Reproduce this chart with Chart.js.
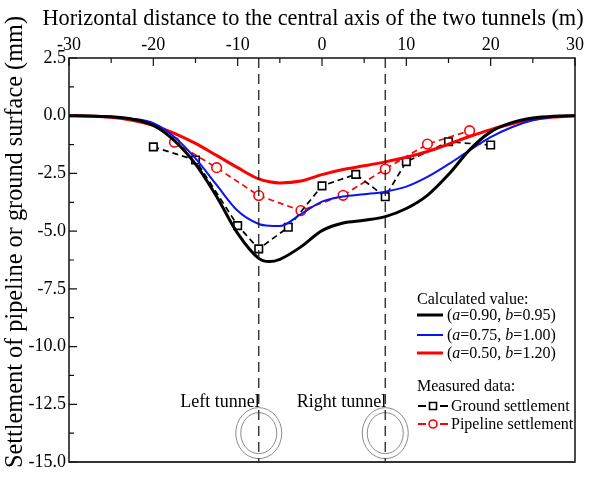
<!DOCTYPE html>
<html lang="en">
<head>
<meta charset="UTF-8" />
<title>Settlement</title>
<script src="https://cdn.jsdelivr.net/npm/chart.js"></script>
<style>
  html, body { margin: 0; padding: 0; background: #fff; }
</style>
</head>
<body>
<canvas id="myChart" width="603" height="479"></canvas>
<script>
// horizontal distance (m) for the calculated curves
const calcX = [-30, -27.5, -25, -22.5, -20, -17.5, -15, -12.5, -10, -7.5, -6.25, -5, -2.5, 0, 2.5, 5, 7.5, 10, 12.5, 15, 17.5, 20, 22.5, 25, 27.5, 30];
// calculated settlement (mm)
const calcBlack = [0, -0.01, -0.05, -0.15, -0.42, -1.08, -2.1, -3.5, -5.1, -6.18, -6.32, -6.22, -5.68, -4.98, -4.65, -4.53, -4.37, -4.02, -3.45, -2.55, -1.48, -0.7, -0.3, -0.1, -0.02, 0];
const calcBlue = [0, -0.01, -0.04, -0.13, -0.32, -0.92, -1.85, -3.0, -4.12, -4.69, -4.77, -4.78, -4.26, -3.72, -3.5, -3.4, -3.29, -3.07, -2.65, -2.1, -1.5, -0.93, -0.5, -0.2, -0.05, 0];
const calcRed = [0, -0.02, -0.07, -0.2, -0.42, -0.76, -1.2, -1.72, -2.25, -2.74, -2.86, -2.91, -2.83, -2.55, -2.33, -2.17, -2.0, -1.8, -1.55, -1.23, -0.9, -0.6, -0.35, -0.17, -0.06, 0];
const calcLabels = [["a", "=0.90, ", "b", "=0.95)"], ["a", "=0.75, ", "b", "=1.00)"], ["a", "=0.50, ", "b", "=1.20)"]];

// measured data
const groundX = [-20, -15, -10, -7.5, -4, 0, 4, 7.5, 10, 15, 20];
const groundY = [-1.35, -1.92, -4.76, -5.77, -4.83, -3.04, -2.54, -3.51, -1.99, -1.13, -1.27];
const pipeX = [-17.5, -12.5, -7.5, -2.5, 2.5, 7.5, 12.5, 17.5];
const pipeY = [-1.15, -2.25, -3.46, -4.11, -3.45, -2.31, -1.23, -0.65];

// tunnel centre lines
const tunnelX = [-7.5, 7.5];
const tunnelNames = ["Left tunnel", "Right tunnel"];
const yRange = [2.5, -15];

const xTitle = "Horizontal distance to the central axis of the two tunnels (m)";
const yTitle = "Settlement of pipeline or ground surface (mm)";

const serif = "'Liberation Serif', 'Times New Roman', serif";
const pts = (xs, ys) => xs.map((x, i) => ({ x: x, y: ys[i] }));

const calcStyle = [
  { color: "#000000", width: 3 },
  { color: "#0a14f0", width: 2 },
  { color: "#ff0000", width: 3 },
];

const datasets = [];
tunnelX.forEach((tx) => {
  datasets.push({
    data: yRange.map((v) => ({ x: tx, y: v })),
    showLine: true,
    borderColor: "#222",
    borderWidth: 1.3,
    borderDash: [10, 6],
    pointRadius: 0,
  });
});
[calcBlack, calcBlue, calcRed].forEach((ys, i) => {
  datasets.push({
    data: pts(calcX, ys),
    showLine: true,
    borderColor: calcStyle[i].color,
    borderWidth: calcStyle[i].width,
    cubicInterpolationMode: "monotone",
    pointRadius: 0,
  });
});
datasets.push({
  data: pts(groundX, groundY),
  showLine: true,
  borderColor: "#000",
  borderWidth: 1.7,
  borderDash: [6, 4],
  pointStyle: "rect",
  pointRadius: 5.3,
  pointBorderWidth: 1.6,
  pointBorderColor: "#000",
  pointBackgroundColor: "#fff",
});
datasets.push({
  data: pts(pipeX, pipeY),
  showLine: true,
  borderColor: "#ff0000",
  borderWidth: 1.7,
  borderDash: [6, 4],
  pointStyle: "circle",
  pointRadius: 4.8,
  pointBorderWidth: 1.6,
  pointBorderColor: "#ff0000",
  pointBackgroundColor: "#fff",
});

// text with italic parts: every other piece is italic
function richText(ctx, x, y, parts, size) {
  parts.forEach((p, i) => {
    ctx.font = (i % 2 === 0 ? "italic " : "") + size + "px " + serif;
    ctx.fillText(p, x, y);
    x += ctx.measureText(p).width;
  });
}

const decorations = {
  id: "decorations",
  beforeDatasetsDraw(chart) {
    const { ctx, scales: { x, y } } = chart;
    ctx.save();
    ctx.strokeStyle = "#8a8a8a";
    ctx.lineWidth = 1;
    ctx.fillStyle = "#000";
    ctx.font = "18px " + serif;
    ctx.textAlign = "right";
    ctx.textBaseline = "alphabetic";
    tunnelX.forEach((tx, i) => {
      const cx = x.getPixelForValue(tx);
      const cy = y.getPixelForValue(-13.75);
      ctx.beginPath();
      ctx.ellipse(cx, cy, 23, 25.5, 0, 0, Math.PI * 2);
      ctx.stroke();
      ctx.beginPath();
      ctx.ellipse(cx, cy, 18, 20.5, 0, 0, Math.PI * 2);
      ctx.stroke();
      ctx.fillText(tunnelNames[i], cx + 1, 407);
    });
    ctx.restore();
  },
  afterDraw(chart) {
    const { ctx, chartArea: a, scales: { x, y } } = chart;
    ctx.save();
    // frame
    ctx.strokeStyle = "#111";
    ctx.lineWidth = 1.5;
    ctx.strokeRect(a.left, a.top, a.right - a.left, a.bottom - a.top);
    ctx.lineWidth = 2;
    ctx.strokeStyle = "#333";
    ctx.beginPath();
    ctx.moveTo(a.left, a.bottom);
    ctx.lineTo(a.right, a.bottom);
    ctx.stroke();
    // inward ticks
    ctx.lineWidth = 1.2;
    ctx.strokeStyle = "#111";
    ctx.beginPath();
    for (let v = -30; v <= 30; v += 5) {
      const px = x.getPixelForValue(v);
      const len = v % 10 === 0 ? 8 : 5;
      ctx.moveTo(px, a.top);
      ctx.lineTo(px, a.top + len);
    }
    for (let v = -15; v <= 2.5; v += 1.25) {
      const py = y.getPixelForValue(v);
      const len = Math.abs(v / 2.5 - Math.round(v / 2.5)) < 1e-6 ? 8 : 5;
      ctx.moveTo(a.left, py);
      ctx.lineTo(a.left + len, py);
    }
    ctx.stroke();

    // axis titles
    ctx.fillStyle = "#000";
    ctx.font = "22.3px " + serif;
    ctx.textAlign = "center";
    ctx.textBaseline = "alphabetic";
    ctx.fillText(xTitle, 313, 25);
    ctx.font = "24.3px " + serif;
    ctx.textBaseline = "middle";
    ctx.translate(16, 242);
    ctx.rotate(-Math.PI / 2);
    ctx.fillText(yTitle, 0, 0);
    ctx.setTransform(1, 0, 0, 1, 0, 0);

    // legend
    ctx.textAlign = "left";
    ctx.textBaseline = "alphabetic";
    ctx.font = "16px " + serif;
    ctx.fillText("Calculated value:", 417, 304);
    const rows = [320, 340, 358];
    rows.forEach((ry, i) => {
      ctx.strokeStyle = calcStyle[i].color;
      ctx.lineWidth = calcStyle[i].width;
      ctx.beginPath();
      ctx.moveTo(417, ry - 5);
      ctx.lineTo(443, ry - 5);
      ctx.stroke();
      ctx.font = "16px " + serif;
      ctx.fillText("(", 447, ry);
      richText(ctx, 447 + ctx.measureText("(").width, ry, calcLabels[i], 16);
    });
    ctx.font = "16px " + serif;
    ctx.fillText("Measured data:", 417, 391);
    const mRows = [{ y: 411, c: "#000", t: "Ground settlement" }, { y: 429, c: "#ff0000", t: "Pipeline settlement" }];
    mRows.forEach((r, i) => {
      const my = r.y - 5;
      ctx.strokeStyle = r.c;
      ctx.lineWidth = 2;
      ctx.beginPath();
      ctx.moveTo(418, my); ctx.lineTo(426, my);
      ctx.moveTo(440, my); ctx.lineTo(448, my);
      ctx.stroke();
      ctx.lineWidth = 1.6;
      ctx.beginPath();
      if (i === 0) ctx.rect(429.5, my - 3.5, 7, 7);
      else ctx.arc(433, my, 4, 0, Math.PI * 2);
      ctx.stroke();
      ctx.fillStyle = "#000";
      ctx.font = "16px " + serif;
      ctx.fillText(r.t, 451, r.y);
    });
    ctx.restore();
  },
};

new Chart(document.getElementById("myChart").getContext("2d"), {
  type: "scatter",
  data: { datasets: datasets },
  plugins: [decorations],
  options: {
    responsive: false,
    animation: false,
    layout: { padding: { left: 0, right: 28, top: 0, bottom: 17 } },
    plugins: { legend: { display: false }, tooltip: { enabled: false } },
    scales: {
      x: {
        type: "linear",
        position: "top",
        min: -30,
        max: 30,
        afterFit: (s) => { s.height = 58; },
        grid: { display: false, drawTicks: false },
        border: { display: false },
        ticks: { stepSize: 10, color: "#000", padding: 2, font: { family: serif, size: 18 } },
      },
      y: {
        type: "linear",
        min: -15,
        max: 2.5,
        afterFit: (s) => { s.width = 69; },
        grid: { display: false, drawTicks: false },
        border: { display: false },
        ticks: {
          stepSize: 2.5,
          color: "#000",
          padding: 3,
          font: { family: serif, size: 18 },
          callback: (v) => v.toFixed(1),
        },
      },
    },
  },
});
</script>
</body>
</html>
